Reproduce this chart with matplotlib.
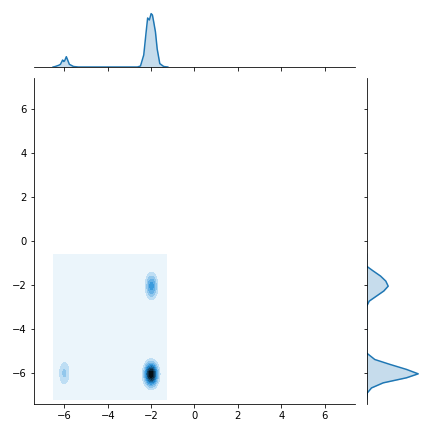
import colorsys
import numpy as np
import matplotlib
matplotlib.use("Agg")
import matplotlib.pyplot as plt
from matplotlib.colors import LinearSegmentedColormap, to_rgb

# 三个团簇：中心、宽度、相对峰值（从图上读出来的）
cluster_x = [-2.0, -1.98, -6.0]
cluster_y = [-6.05, -2.05, -6.0]
cluster_sx = [0.19, 0.17, 0.17]
cluster_sy = [0.33, 0.36, 0.38]
cluster_peak = [1.0, 0.45, 0.22]

# KDE 网格的范围
grid_x = (-6.5, -1.3)
grid_y = (-7.2, -0.6)

# 上方边缘分布 (x)
marg_x_pos = [-6.52, -6.42, -6.25, -6.18, -6.08, -6.03, -5.99, -5.91, -5.83, -5.77,
              -5.58, -5.35, -2.63, -2.49, -2.34, -2.23, -2.16, -2.08, -2.00, -1.94,
              -1.88, -1.80, -1.72, -1.60, -1.42, -1.23]
marg_x_val = [0, 0.5, 1.8, 2.7, 7, 5.5, 6, 10.3, 6, 2.7,
              0.5, 0, 0, 1, 12, 35, 49, 47, 53.4, 52,
              45, 35, 18, 3.4, 0.5, 0]

# 右侧边缘分布 (y)
marg_y_pos = [-0.6, -1.14, -1.36, -1.59, -1.82, -2.05, -2.27, -2.5, -2.73, -2.95,
              -3.1, -4.9, -5.08, -5.38, -5.6, -5.83, -6.03, -6.21, -6.44, -6.67,
              -6.9, -7.2]
marg_y_val = [0, 0, 6.7, 14, 19.3, 21.7, 17.3, 10, 2.7, 0.3,
              0, 0, 0, 8.3, 23.3, 40, 51.7, 40, 16.7, 5,
              0.7, 0]

ticks = [-6, -4, -2, 0, 2, 4, 6]
lim = (-7.4, 7.4)
color = "#1f77b4"

# 白 -> C0 -> 黑 的色图
h, l, s = colorsys.rgb_to_hls(*to_rgb(color))
cols = [colorsys.hls_to_rgb(h, li, s) for li in np.linspace(1, 0, 12)]
cmap = LinearSegmentedColormap.from_list("blend", cols)

xx, yy = np.meshgrid(np.linspace(*grid_x, 100), np.linspace(*grid_y, 100))
zz = np.zeros_like(xx)
for cx, cy, sx, sy, pk in zip(cluster_x, cluster_y, cluster_sx, cluster_sy, cluster_peak):
    zz += pk * np.exp(-0.5 * ((xx - cx) / sx) ** 2 - 0.5 * ((yy - cy) / sy) ** 2)

fig = plt.figure(figsize=(6, 6), dpi=72)
W = 432.0
ax = fig.add_axes([34 / W, 1 - 404 / W, 321 / W, 326 / W])
ax_top = fig.add_axes([34 / W, 1 - 67 / W, 321 / W, 56.2 / W])
ax_right = fig.add_axes([366.5 / W, 1 - 404 / W, 55.3 / W, 326 / W])

ax.contourf(xx, yy, zz, levels=10, cmap=cmap)
ax.set_xlim(lim)
ax.set_ylim(lim)
ax.set_xticks(ticks)
ax.set_yticks(ticks)
for sp in ["top", "right"]:
    ax.spines[sp].set_visible(False)

ax_top.fill_between(marg_x_pos, marg_x_val, color=color, alpha=0.25, lw=0)
ax_top.plot(marg_x_pos, marg_x_val, color=color, lw=1.5)
ax_top.set_xlim(lim)
ax_top.set_ylim(0, 56.2)
ax_top.set_xticks(ticks)
ax_top.tick_params(labelbottom=False)
ax_top.yaxis.set_visible(False)
for sp in ["top", "right", "left"]:
    ax_top.spines[sp].set_visible(False)

ax_right.fill_betweenx(marg_y_pos, marg_y_val, color=color, alpha=0.25, lw=0)
ax_right.plot(marg_y_val, marg_y_pos, color=color, lw=1.5)
ax_right.set_ylim(lim)
ax_right.set_xlim(0, 55.3)
ax_right.set_yticks(ticks)
ax_right.tick_params(labelleft=False)
ax_right.xaxis.set_visible(False)
for sp in ["top", "right", "bottom"]:
    ax_right.spines[sp].set_visible(False)

fig.savefig("out.png", dpi=72)
